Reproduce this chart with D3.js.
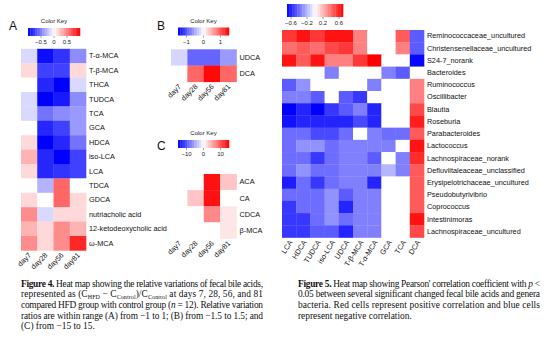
<!DOCTYPE html>
<meta charset="utf-8">
<html>
<head>
<script src="https://cdn.jsdelivr.net/npm/d3@7"></script>
<style>
  body { margin: 0; background: #fff; }
  .lab text { font-family: "Liberation Sans", Arial, sans-serif; font-size: 7.3px; fill: #111; }
  .keytxt { font-family: "Liberation Sans", Arial, sans-serif; font-size: 6px; fill: #222; }
  .panel { font-family: "Liberation Sans", Arial, sans-serif; font-size: 12px; fill: #111; }
  .cap { font-family: "Liberation Serif", "Times New Roman", serif; font-size: 9.4px; fill: #111; }
</style>
</head>
<body>
<svg id="fig" width="557" height="344"></svg>
<script>
// ---- data ----
var days = ["day7", "day28", "day56", "day81"];

var acidsA = ["T-α-MCA", "T-β-MCA", "THCA", "TUDCA", "TCA", "GCA", "HDCA", "iso-LCA", "LCA",
              "TDCA", "GDCA", "nutriacholic acid", "12-ketodeoxycholic acid", "ω-MCA"];
var valsA = [
  [-0.15, -0.95, -0.8, -0.45],
  [ 0.15, -0.75, -0.75, 0.15],
  [ 0,    -0.85, -1.0, -0.15],
  [-0.15, -1.0, -0.9, -0.45],
  [-0.15, -0.55, -0.45, -0.4],
  [ 0,    -0.85, -0.75, -0.4],
  [ 0.15, -1.0, -0.85, -0.55],
  [ 0.3,  -0.85, -1.0, -0.75],
  [ 0.15, -0.85, -0.8, -0.75],
  [ 0,    -0.3,  0.6,  0],
  [ 0.15,  0,    0.6,  0.15],
  [ 0.45, -0.15, 0.15, 0.15],
  [ 0.3,   0.15, 0.45, 0.3],
  [ 0.45,  0.15, 0.45, 0.85]
];

var acidsB = ["UDCA", "DCA"];
var valsB = [
  [-0.25, -0.9, -0.9, -0.6],
  [ 0,     0.9,  1.45, 0.9]
];

var acidsC = ["ACA", "CA", "CDCA", "β-MCA"];
var valsC = [
  [0, 0,   14, 3.5],
  [0, 3.5, 14, 0],
  [0, 0,   7,  1.5],
  [0, 0,   0,  1.5]
];

var acids5 = ["LCA", "HDCA", "TUDCA", "iso-LCA", "UDCA", "T-β-MCA", "T-α-MCA", "GCA", "TCA", "DCA"];
var genera = ["Reminococcaceae_uncultured", "Christensenellaceae_uncultured", "S24-7_norank", "Bacteroides",
              "Ruminococcus", "Oscillibacter", "Blautia", "Roseburia", "Parabacteroides", "Lactococcus",
              "Lachnospiraceae_norank", "Defluviitaleaceae_unclassified", "Erysipelotrichaceae_uncultured",
              "Pseudobutyrivibrio", "Coprococcus", "Intestinimoras", "Lachnospiraceae_uncultured"];
var corr = [
  [ 0.55,  0.65,  0.55,  0.65,  0.65,  0.35,  0,     0,     0.45, -0.45],
  [ 0.4,   0.45,  0.4,   0.5,   0.55,  0.35,  0,     0,     0.35, -0.45],
  [ 0.65,  0.45,  0.65,  0.35,  0.35,  0.55,  0.7,   0,     0,    -0.68],
  [ 0,     0,     0,    -0.35,  0,     0,     0,    -0.35, -0.45,  0],
  [-0.45, -0.3,   0,     0,     0,     0,    -0.35,  0,     0,     0.35],
  [-0.35, -0.35, -0.45,  0,    -0.45, -0.55,  0,     0,     0,     0.35],
  [-0.7,  -0.6,  -0.7,  -0.55, -0.45, -0.35, -0.6,   0,     0,     0.5],
  [-0.65, -0.6,  -0.6,  -0.6,  -0.6,  -0.5,  -0.6,   0,     0,     0.62],
  [-0.4,  -0.4,  -0.5,  -0.5,  -0.4,   0,    -0.35, -0.4,  -0.4,   0.45],
  [-0.4,  -0.3,  -0.3,  -0.4,  -0.35, -0.35, -0.35, -0.35,  0,     0.65],
  [-0.4,  -0.4,  -0.55, -0.4,  -0.35, -0.35, -0.45,  0,    -0.35,  0.58],
  [-0.4,  -0.3,  -0.4,  -0.4,  -0.35, -0.35, -0.35, -0.2,  -0.35,  0.45],
  [-0.62, -0.4,  -0.55, -0.4,  -0.35, -0.35, -0.6,   0,     0,     0.45],
  [-0.4,  -0.4,  -0.4,  -0.3,  -0.45, -0.35, -0.35,  0,     0,     0.45],
  [-0.55, -0.4,  -0.4,  -0.3,  -0.6,  -0.35, -0.35,  0,     0,     0.45],
  [-0.55, -0.55, -0.4,  -0.3,  -0.4,  -0.35, -0.35,  0,     0,     0.65],
  [-0.55, -0.55, -0.45, -0.45, -0.6,  -0.35, -0.35,  0,     0,     0.5]
];

var svg = d3.select("#fig");

function colorFor(max) {
  return d3.scaleLinear().domain([-max, 0, max]).range(["#0000ff", "#ffffff", "#ff0000"]).clamp(true);
}

// one heatmap block: cells + row labels on the right + rotated column labels
function heat(o) {
  var g = svg.append("g");
  var x = d3.scaleBand().domain(o.cols).range([o.x0, o.x0 + o.w]);
  var y = d3.scaleBand().domain(o.rows).range([o.y0, o.y0 + o.h]);
  var col = colorFor(o.max);
  var cells = [];
  o.rows.forEach(function(r, i) {
    o.cols.forEach(function(c, j) { cells.push({r: r, c: c, v: o.vals[i][j]}); });
  });
  g.selectAll("rect").data(cells).join("rect")
    .attr("x", function(d) { return x(d.c); })
    .attr("y", function(d) { return y(d.r); })
    .attr("width", x.bandwidth() + 0.3)
    .attr("height", y.bandwidth() + 0.3)
    .attr("fill", function(d) { return col(d.v); });

  var ya = g.append("g").attr("class", "lab")
    .attr("transform", "translate(" + (o.x0 + o.w) + ",0)")
    .call(d3.axisRight(y).tickSize(0).tickPadding(o.pad || 3));
  ya.select(".domain").remove();
  ya.attr("font-size", null).attr("font-family", null);

  var xa = g.append("g").attr("class", "lab")
    .attr("transform", "translate(0," + (o.y0 + o.h) + ")")
    .call(d3.axisBottom(x).tickSize(0));
  xa.select(".domain").remove();
  xa.attr("font-size", null).attr("font-family", null);
  xa.selectAll("text")
    .attr("transform", "rotate(" + o.rot + ")")
    .attr("x", -2).attr("y", 3).attr("dy", "0.35em")
    .style("text-anchor", "end");
}

// heatmap.2 style colour key
function key(o) {
  var g = svg.append("g");
  var kx = d3.scaleLinear().domain([-o.max, o.max]).range([o.x0, o.x0 + o.w]);
  var col = colorFor(o.max);
  var n = 22;
  var steps = d3.range(n).map(function(i) { return -o.max + (i + 0.5) * 2 * o.max / n; });
  g.selectAll("rect").data(steps).join("rect")
    .attr("x", function(d) { return kx(d - o.max / n); })
    .attr("y", o.y0)
    .attr("width", kx(2 * o.max / n) - kx(0) + 0.3)
    .attr("height", o.h)
    .attr("fill", function(d) { return col(d); });
  g.selectAll("line.tk").data(o.ticks).join("line")
    .attr("x1", kx).attr("x2", kx)
    .attr("y1", o.y0 + o.h).attr("y2", o.y0 + o.h + 2)
    .attr("stroke", "#444").attr("stroke-width", 0.5);
  g.selectAll("text.kl").data(o.ticks).join("text")
    .attr("class", "keytxt")
    .attr("x", kx).attr("y", o.y0 + o.h + 8)
    .attr("text-anchor", "middle")
    .text(function(d) { return d < 0 ? "\u2212" + (-d) : d; });
  if (o.title) {
    g.append("text").attr("class", "keytxt")
      .attr("x", o.x0 + o.w / 2).attr("y", o.y0 - 5)
      .attr("text-anchor", "middle")
      .text("Color Key");
  }
}

// panel A
svg.append("text").attr("class", "panel").attr("x", 9).attr("y", 30).text("A");
key({x0: 28, y0: 28, w: 52, h: 8, max: 1, ticks: [-0.5, 0, 0.5], title: true});
heat({x0: 21, y0: 48.8, w: 65, h: 201.6, cols: days, rows: acidsA, vals: valsA, max: 1, rot: -45});

// panel B
svg.append("text").attr("class", "panel").attr("x", 157).attr("y", 30).text("B");
key({x0: 178, y0: 27.5, w: 51, h: 8, max: 1.5, ticks: [-1, 0, 1], title: true});
heat({x0: 171, y0: 49.3, w: 65.5, h: 32.5, cols: days, rows: acidsB, vals: valsB, max: 1.5, rot: -45});

// panel C
svg.append("text").attr("class", "panel").attr("x", 157).attr("y", 150).text("C");
key({x0: 178, y0: 140, w: 51, h: 8, max: 15, ticks: [-10, 0, 10], title: true});
heat({x0: 171, y0: 174, w: 65.5, h: 64.5, cols: days, rows: acidsC, vals: valsC, max: 15, rot: -45});

// Figure 5 correlation map
key({x0: 287, y0: 4, w: 56, h: 13, max: 0.7, ticks: [-0.6, -0.2, 0.2, 0.6], title: false});
heat({x0: 282, y0: 30, w: 142, h: 207.5, cols: acids5, rows: genera, vals: corr, max: 0.7, rot: -58});

// captions
function caption(lines, x0, y0, width) {
  var g = svg.append("g");
  lines.forEach(function(segs, i) {
    var t = g.append("text").attr("class", "cap").attr("x", x0).attr("y", y0 + i * 10.7);
    if (i < lines.length - 1) t.attr("textLength", width).attr("lengthAdjust", "spacing");
    segs.forEach(function(s) {
      var sp = t.append("tspan").text(s[0]);
      if (s[1] === "b") sp.style("font-weight", "bold");
      if (s[1] === "i") sp.style("font-style", "italic");
      if (s[1] === "sub") sp.style("font-size", "6px").attr("dy", 2);
      if (s[1] === "up") sp.attr("dy", -2);
    });
  });
}

caption([
  [["Figure 4.", "b"], [" Heat map showing the relative variations of fecal bile acids,"]],
  [["represented as (C"], ["HFD", "sub"], [" \u2212 C", "up"], ["Control", "sub"], [")/C", "up"], ["Control", "sub"], [" at days 7, 28, 56, and 81", "up"]],
  [["compared HFD group with control group ("], ["n", "i"], [" = 12). Relative variation"]],
  [["ratios are within range (A) from \u22121 to 1; (B) from \u22121.5 to 1.5; and"]],
  [["(C) from \u221215 to 15."]]
], 21, 286.5, 242);

caption([
  [["Figure 5.", "b"], [" Heat map showing Pearson' correlation coefficient with "], ["p", "i"], [" <"]],
  [["0.05 between several significant changed fecal bile acids and genera"]],
  [["bacteria. Red cells represent positive correlation and blue cells"]],
  [["represent negative correlation."]]
], 298, 286.5, 242);
</script>
</body>
</html>
